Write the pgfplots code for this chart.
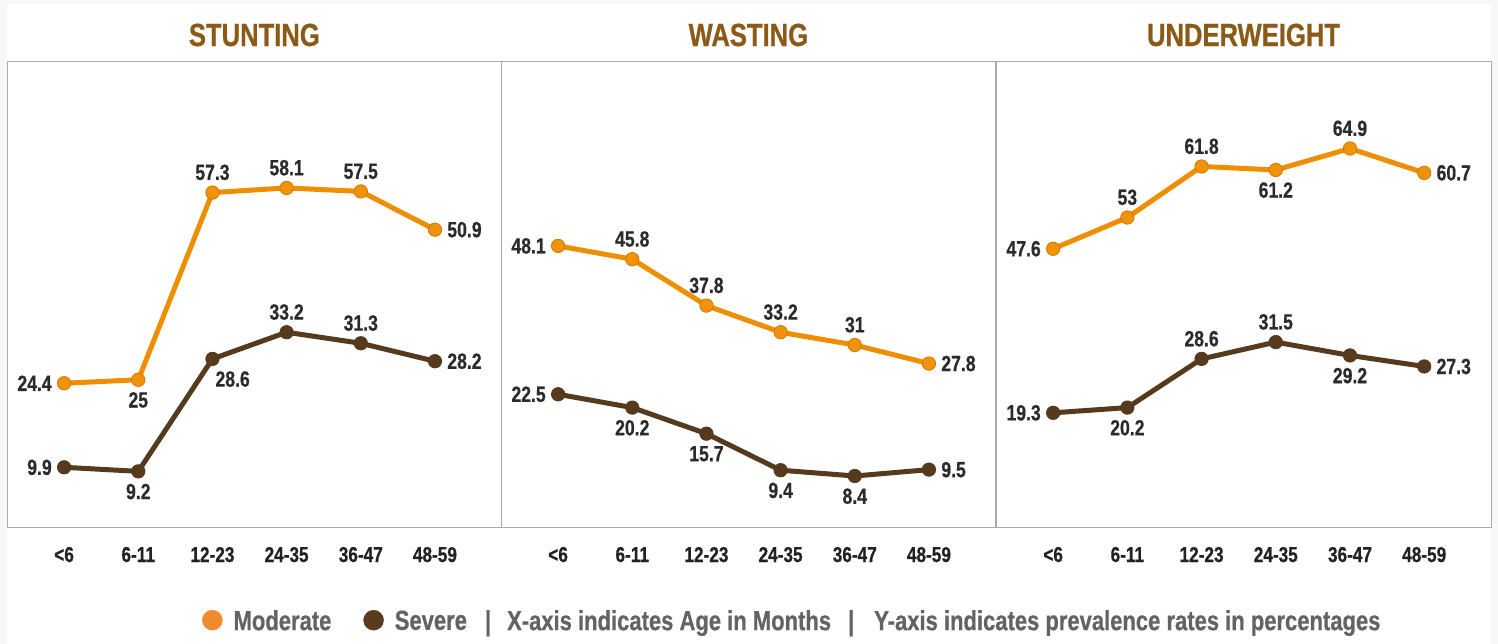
\documentclass[border=0pt]{standalone}
\usepackage{pgfplots}
\pgfplotsset{compat=1.18}
\usepackage{fontspec}
\setmainfont{Liberation Sans}[FakeStretch=0.8, BoldFeatures={FakeBold=0.6}]
\definecolor{bgcol}{HTML}{F7F7FA}
\definecolor{axisgray}{HTML}{AAAAAA}
\definecolor{titlecol}{HTML}{8B5A17}
\definecolor{lineorange}{HTML}{EE8E00}
\definecolor{markorange}{HTML}{F0920A}
\definecolor{markorangedark}{HTML}{CF7B00}
\definecolor{sevbrown}{HTML}{563A1E}
\definecolor{legorange}{HTML}{F08A2E}
\definecolor{legbrown}{HTML}{5A3B1E}
\definecolor{lblcol}{HTML}{2B2B2B}
\definecolor{tickcol}{HTML}{222222}
\definecolor{legcol}{HTML}{636363}
\newcommand\titlefont{\fontsize{32bp}{36bp}\selectfont\bfseries}
\newcommand\lblfont{\fontsize{22bp}{25bp}\selectfont\bfseries}
\newcommand\tickfont{\fontsize{21.5bp}{25bp}\selectfont\bfseries}
\newcommand\legfont{\fontsize{27.5bp}{32bp}\selectfont\bfseries}
\pgfplotsset{
  panel/.style={
    scale only axis, width=494.7bp, height=466bp, anchor=north west,
    xmin=-0.77, xmax=5.9, ymin=-0.4, ymax=80,
    axis line style={draw=axisgray, line width=1bp},
    xtick={0,...,5}, xticklabels={<6,6-11,12-23,24-35,36-47,48-59},
    ytick=\empty, major tick length=0pt,
    xticklabel style={anchor=base, yshift=-35bp, font=\tickfont, text=tickcol},
    every axis title/.style={at={(0.5,1)}, anchor=base, yshift=15bp, font=\titlefont, text=titlecol},
    clip=false,
    /pgf/number format/assume math mode=true,
  },
  moderate/.style={color=lineorange, line width=5bp, line join=round,
    mark=*, mark size=6.7bp, mark options={fill=markorange, draw=markorangedark, line width=0.8bp},
    nodes near coords, point meta=y,
    visualization depends on={value \thisrow{a}\as\myanchor},
    every node near coord/.append style={anchor=\myanchor, inner sep=12bp, font=\lblfont, text=lblcol}},
  severe/.style={color=sevbrown, line width=5bp, line join=round,
    mark=*, mark size=6.7bp, mark options={fill=sevbrown, draw=sevbrown, line width=0.8bp},
    nodes near coords, point meta=y,
    visualization depends on={value \thisrow{a}\as\myanchor},
    every node near coord/.append style={anchor=\myanchor, inner sep=12bp, font=\lblfont, text=lblcol}},
}
\begin{document}
\begin{tikzpicture}
\fill[bgcol] (0bp,0bp) rectangle (1498bp,-644bp);
\fill[white] (7bp,-4bp) rectangle (1491bp,-644bp);

\begin{axis}[panel, at={(7bp,-61bp)}, title={STUNTING}]
\addplot[moderate] table[row sep=\\]{x y a\\ 0 24.4 east\\ 1 25 north\\ 2 57.3 south\\ 3 58.1 south\\ 4 57.5 south\\ 5 50.9 west\\};
\addplot[severe] table[row sep=\\]{x y a\\ 0 9.9 east\\ 1 9.2 north\\ 2 28.6 135\\ 3 33.2 south\\ 4 31.3 south\\ 5 28.2 west\\};
\end{axis}

\begin{axis}[panel, at={(501bp,-61bp)}, title={WASTING},
  legend style={at={(-0.604,-0.2)}, anchor=west, draw=none, fill=none,
    inner sep=0pt, outer sep=0pt, legend columns=-1, font=\legfont, text=legcol,
    nodes={inner sep=0pt, text depth=0pt},
    /tikz/every odd column/.append style={column sep=11bp},
    /tikz/every even column/.append style={column sep=32bp}}]
\addlegendimage{legend image code/.code={\fill[legorange] (10bp,0bp) circle (10bp);}}
\addlegendentry{Moderate}
\addlegendimage{legend image code/.code={\fill[legbrown] (10bp,0bp) circle (10bp);}}
\addlegendentry{Severe}
\addlegendimage{empty legend}
\addlegendentry{\hspace*{-25bp}|\hspace{16bp}X-axis indicates Age in Months\hspace{17bp}|\hspace{20bp}Y-axis indicates prevalence rates in percentages}
\addplot[moderate] table[row sep=\\]{x y a\\ 0 48.1 east\\ 1 45.8 south\\ 2 37.8 south\\ 3 33.2 south\\ 4 31 south\\ 5 27.8 west\\};
\addplot[severe] table[row sep=\\]{x y a\\ 0 22.5 east\\ 1 20.2 north\\ 2 15.7 north\\ 3 9.4 north\\ 4 8.4 north\\ 5 9.5 west\\};
\end{axis}

\begin{axis}[panel, at={(996bp,-61bp)}, width=495bp, title={UNDERWEIGHT}]
\addplot[moderate] table[row sep=\\]{x y a\\ 0 47.6 east\\ 1 53 south\\ 2 61.8 south\\ 3 61.2 north\\ 4 64.9 south\\ 5 60.7 west\\};
\addplot[severe] table[row sep=\\]{x y a\\ 0 19.3 east\\ 1 20.2 north\\ 2 28.6 south\\ 3 31.5 south\\ 4 29.2 north\\ 5 27.3 west\\};
\end{axis}

\pgfresetboundingbox
\path (0bp,0bp) rectangle (1498bp,-644bp);
\end{tikzpicture}
\end{document}
